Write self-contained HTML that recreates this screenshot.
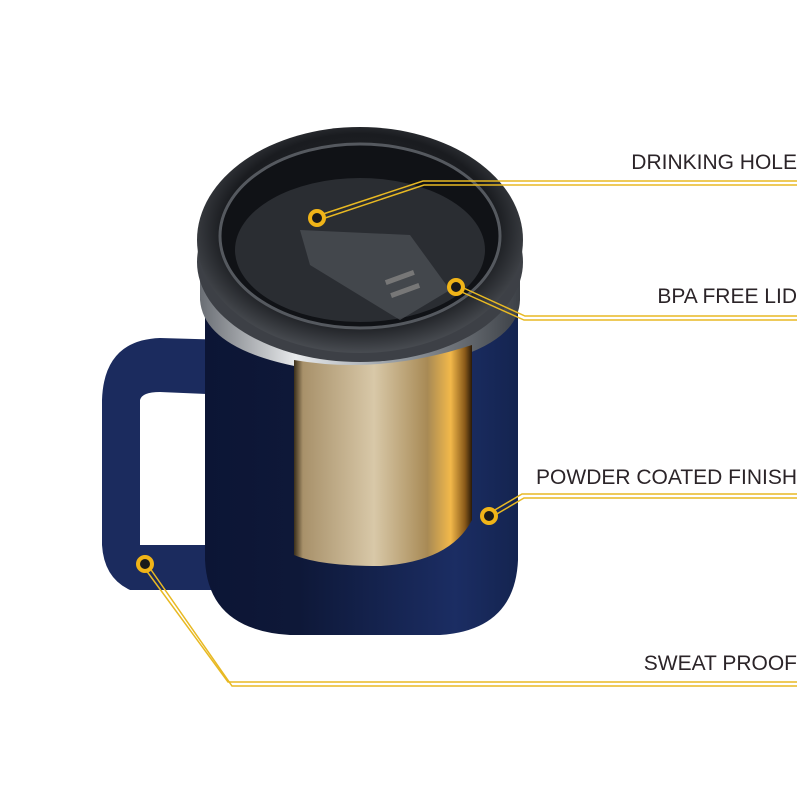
<!DOCTYPE html>
<html><head><meta charset="utf-8"><style>
html,body{margin:0;padding:0;background:#fff;}
svg{display:block}
text{font-family:"Liberation Sans",sans-serif;font-size:21px;fill:#2b2428;}
</style></head><body>
<svg width="800" height="800" viewBox="0 0 800 800" xmlns="http://www.w3.org/2000/svg">
<defs>
<linearGradient id="gold" x1="0" x2="1">
<stop offset="0" stop-color="#3a2e1a"/><stop offset="0.05" stop-color="#a8916a"/><stop offset="0.45" stop-color="#d8c8a8"/><stop offset="0.75" stop-color="#a88a55"/><stop offset="0.88" stop-color="#f2b84a"/><stop offset="0.96" stop-color="#8a5a1a"/><stop offset="1" stop-color="#2a1a08"/>
</linearGradient>
<linearGradient id="body" x1="0" x2="1">
<stop offset="0" stop-color="#0c1535"/><stop offset="0.3" stop-color="#0e1838"/><stop offset="0.8" stop-color="#1b2d63"/><stop offset="1" stop-color="#142450"/>
</linearGradient>
<linearGradient id="steel" x1="0" x2="1">
<stop offset="0" stop-color="#6a6e74"/><stop offset="0.3" stop-color="#e8eaec"/><stop offset="0.6" stop-color="#9aa0a6"/><stop offset="1" stop-color="#3c4046"/>
</linearGradient>
<radialGradient id="lid" cx="0.5" cy="0.45" r="0.6">
<stop offset="0" stop-color="#2a2c30"/><stop offset="0.7" stop-color="#1a1c20"/><stop offset="1" stop-color="#5a5e64"/>
</radialGradient>
</defs>
<!-- handle -->
<path d="M230,340 L160,338 Q104,340 102,400 L102,545 Q104,578 130,590 L240,590 L240,545 L140,545 L140,400 Q142,392 160,392 L230,395 Z" fill="#1b2b5e"/>
<!-- body -->
<path d="M205,300 L518,300 L518,560 Q515,630 440,635 L290,635 Q208,630 205,560 Z" fill="url(#body)"/>
<!-- steel rim -->
<path d="M200,270 L520,270 L520,300 Q518,360 360,375 Q205,362 200,300 Z" fill="url(#steel)"/>
<!-- gold panel -->
<path d="M294,360 Q380,375 472,345 L472,520 Q450,562 380,566 Q320,566 294,555 Z" fill="url(#gold)"/>
<!-- lid -->
<ellipse cx="360" cy="262" rx="163" ry="100" fill="#3d4046"/>
<ellipse cx="360" cy="240" rx="163" ry="113" fill="url(#lid)"/>
<ellipse cx="360" cy="236" rx="140" ry="92" fill="#101216" stroke="#55595f" stroke-width="3"/>
<ellipse cx="360" cy="250" rx="125" ry="72" fill="#2a2d32"/>
<path d="M300,230 L410,235 L450,290 L400,320 L310,265 Z" fill="#4a4d52" opacity="0.8"/>
<rect x="385" y="275" width="30" height="5" fill="#777" transform="rotate(-20 400 278)"/>
<rect x="390" y="288" width="30" height="5" fill="#777" transform="rotate(-20 405 290)"/>
<!-- callout lines -->
<g fill="none" stroke="#e8b923" stroke-width="1.5">
<polyline points="317,216 423,181 797,181"/><polyline points="319,220 424,185 797,185"/>
<polyline points="457,285 525,316 797,316"/><polyline points="455,289 524,320 797,320"/>
<polyline points="488,514 522,494 797,494"/><polyline points="490,518 524,498 797,498"/>
<polyline points="143,566 228,682 797,682"/><polyline points="147,564 232,686 797,686"/>
</g>
<g fill="#1a1a1a" stroke="#f0b418" stroke-width="4">
<circle cx="317" cy="218" r="7"/><circle cx="456" cy="287" r="7"/><circle cx="489" cy="516" r="7"/><circle cx="145" cy="564" r="7"/>
</g>
<text x="797" y="169" text-anchor="end">DRINKING HOLE</text>
<text x="797" y="303" text-anchor="end">BPA FREE LID</text>
<text x="797" y="484" text-anchor="end">POWDER COATED FINISH</text>
<text x="797" y="670" text-anchor="end">SWEAT PROOF</text>
</svg>
</body></html>
